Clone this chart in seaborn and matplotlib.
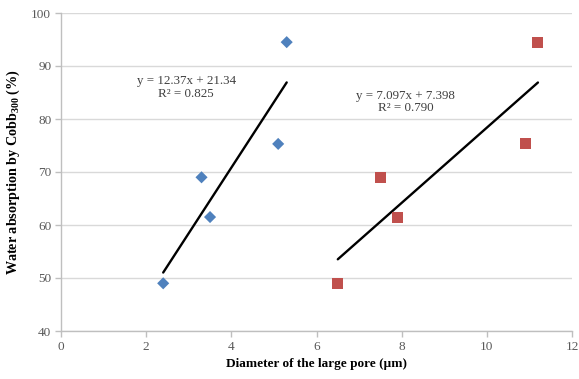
import numpy as np
import pandas as pd
import matplotlib
matplotlib.use("Agg")
import matplotlib.pyplot as plt
import seaborn as sns

# Data
blue_x = [2.4, 3.3, 3.5, 5.1, 5.3]
blue_y = [49.0, 69.0, 61.5, 75.3, 94.5]
red_x = [6.5, 7.5, 7.9, 10.9, 11.2]
red_y = [49.0, 69.0, 61.5, 75.3, 94.5]
blue_fit = (12.37, 21.34)
red_fit = (7.097, 7.398)
blue_eq = ["y = 12.37x + 21.34", "R² = 0.825"]
red_eq = ["y = 7.097x + 7.398", "R² = 0.790"]
x_ticks = [0, 2, 4, 6, 8, 10, 12]
y_ticks = [40, 50, 60, 70, 80, 90, 100]

sns.set_theme(style="white")
plt.rcParams['font.family'] = ['Liberation Serif', 'DejaVu Serif']
plt.rcParams['mathtext.fontset'] = 'custom'
plt.rcParams['mathtext.rm'] = 'Liberation Serif'
plt.rcParams['mathtext.bf'] = 'Liberation Serif:bold'

fig = plt.figure(figsize=(5.79, 3.79), dpi=100)
ax = fig.add_axes([61/579, (379-331)/379, (572-61)/579, (331-13)/379])

blue_df = pd.DataFrame({"x": blue_x, "y": blue_y})
red_df = pd.DataFrame({"x": red_x, "y": red_y})

sns.scatterplot(data=blue_df, x="x", y="y", marker="D", s=38, color="#4F81BD",
                edgecolor="none", ax=ax, zorder=3)
sns.scatterplot(data=red_df, x="x", y="y", marker="s", s=62, color="#C0504D",
                edgecolor="none", ax=ax, zorder=3)

bx = np.array([min(blue_x), max(blue_x)])
rx = np.array([min(red_x), max(red_x)])
sns.lineplot(x=bx, y=blue_fit[0]*bx + blue_fit[1], color="black", lw=1.7, ax=ax, zorder=2)
sns.lineplot(x=rx, y=red_fit[0]*rx + red_fit[1], color="black", lw=1.7, ax=ax, zorder=2)

ax.text(2.94, 86.0, "\n".join(blue_eq), ha="center", va="center", fontsize=9.4,
        color="#404040", linespacing=1.1)
ax.text(8.1, 83.2, "\n".join(red_eq), ha="center", va="center", fontsize=9.4,
        color="#404040", linespacing=1.1)

ax.set_xlim(0, 12)
ax.set_ylim(40, 100)
ax.set_xticks(x_ticks)
ax.set_yticks(y_ticks)
ax.yaxis.grid(True, color="#D9D9D9", lw=1)
ax.xaxis.grid(False)
ax.set_axisbelow(True)
for s in ["top", "right"]:
    ax.spines[s].set_visible(False)
for s in ["left", "bottom"]:
    ax.spines[s].set_color("#BFBFBF")
    ax.spines[s].set_linewidth(1)
ax.tick_params(axis="both", which="major", length=4, width=1, color="#BFBFBF",
               labelsize=9.5, labelcolor="#595959", pad=3, direction="out",
               bottom=True, left=True)

ax.set_xlabel("Diameter of the large pore (µm)", fontsize=9.5, fontweight="bold",
              color="black", labelpad=4)
ax.set_ylabel(r"Water absorption by Cobb$_{\mathbf{300}}$ (%)", fontsize=10.2,
              fontweight="bold", color="black", labelpad=7)

fig.savefig("out.png", dpi=100)
